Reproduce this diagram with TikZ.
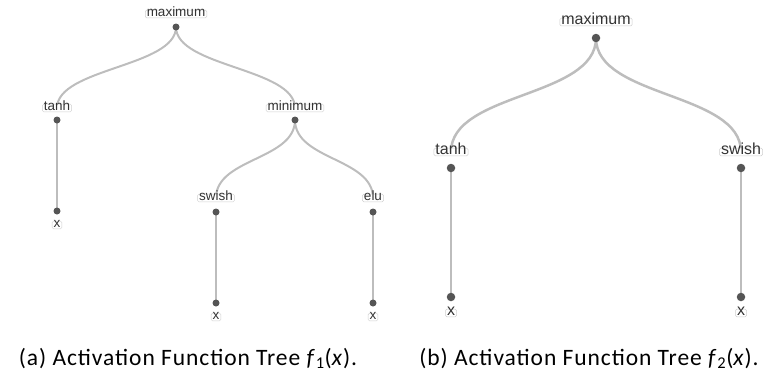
\documentclass[tikz,border=0pt]{standalone}
\usepackage{fontspec}
\setmainfont{Carlito}[LetterSpace=4]
\newfontfamily\lblfont{Liberation Sans}
\usetikzlibrary{backgrounds}
\definecolor{edgegrey}{HTML}{BDBDBD}
\definecolor{dotgrey}{HTML}{555555}
\definecolor{txtgrey}{HTML}{333333}
\definecolor{boxgrey}{HTML}{CFCFCF}
\tikzset{
  lbl/.style={font=\lblfont\fontsize{13.5}{14}\selectfont, text=txtgrey, fill=white, draw=boxgrey, line width=0.5pt, rounded corners=1.5pt, inner xsep=1.5pt, inner ysep=1pt, text height=1.1ex, text depth=0.15ex},
  lblb/.style={lbl, font=\lblfont\fontsize{16}{17}\selectfont},
  dotn/.style={circle, fill=dotgrey, inner sep=0pt, minimum size=7pt},
  dotb/.style={circle, fill=dotgrey, inner sep=0pt, minimum size=8.5pt},
  edge/.style={draw=edgegrey, line width=2pt},
  captext/.style={font=\fontsize{23.5}{26}\selectfont, text=black, anchor=base, inner sep=0pt}
}
\begin{document}
\begin{tikzpicture}[x=1pt,y=-1pt]
\useasboundingbox (0,0) rectangle (766,375);
% tree (a)
\node[lbl] (a0) at (176,14) {maximum};
\node[dotn] (a0d) at (176,27) {};
\node[lbl] (a1) at (57,108) {tanh};
\node[dotn] (a1d) at (57,120) {};
\node[lbl] (a2) at (295,108) {minimum};
\node[dotn] (a2d) at (295,120) {};
\node[dotn] (a3d) at (57,211) {};
\node[lbl] (a3) at (57,225) {x};
\node[lbl] (a4) at (216,198) {swish};
\node[dotn] (a4d) at (216,212) {};
\node[lbl] (a5) at (373,198) {elu};
\node[dotn] (a5d) at (373,212) {};
\node[dotn] (a6d) at (216,303) {};
\node[lbl] (a6) at (216,317) {x};
\node[dotn] (a7d) at (373,303) {};
\node[lbl] (a7) at (373,317) {x};
% tree (b)
\node[lblb] (b0) at (596,22) {maximum};
\node[dotb] (b0d) at (596,38) {};
\node[lblb] (b1) at (451,152) {tanh};
\node[dotb] (b1d) at (451,168) {};
\node[lblb] (b2) at (741,152) {swish};
\node[dotb] (b2d) at (741,168) {};
\node[dotb] (b3d) at (451,297) {};
\node[lblb] (b3) at (451,313) {x};
\node[dotb] (b4d) at (741,297) {};
\node[lblb] (b4) at (741,313) {x};
\begin{scope}[on background layer]
  \draw[edge] (a0d.center) .. controls +(0,40) and +(0,-40) .. (a1.center);
  \draw[edge] (a0d.center) .. controls +(0,40) and +(0,-40) .. (a2.center);
  \draw[edge] (a1d.center) -- (a3d.center);
  \draw[edge] (a2d.center) .. controls +(0,40) and +(0,-40) .. (a4.center);
  \draw[edge] (a2d.center) .. controls +(0,40) and +(0,-40) .. (a5.center);
  \draw[edge] (a4d.center) -- (a6d.center);
  \draw[edge] (a5d.center) -- (a7d.center);
  \draw[edge, line width=2.5pt] (b0d.center) .. controls +(0,60) and +(0,-60) .. (b1.center);
  \draw[edge, line width=2.5pt] (b0d.center) .. controls +(0,60) and +(0,-60) .. (b2.center);
  \draw[edge, line width=2.5pt] (b1d.center) -- (b3d.center);
  \draw[edge, line width=2.5pt] (b2d.center) -- (b4d.center);
\end{scope}
% captions
\node[captext] (capa) at (188,365) {(a) Activation Function Tree \textit{f}\textsubscript{1}(\textit{x}).};
\node[captext] (capb) at (589,365) {(b) Activation Function Tree \textit{f}\textsubscript{2}(\textit{x}).};
\end{tikzpicture}
\end{document}
